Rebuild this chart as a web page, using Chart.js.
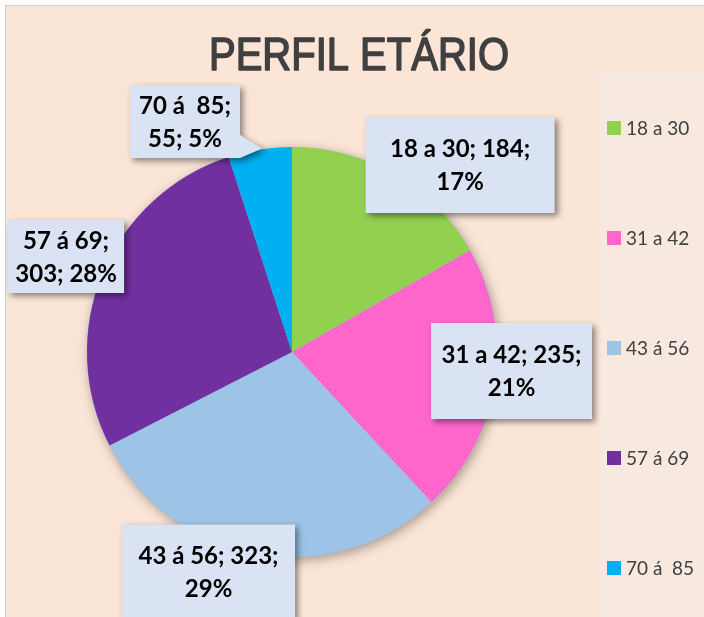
<!DOCTYPE html>
<html><head><meta charset="utf-8">
<script src="https://cdn.jsdelivr.net/npm/chart.js@4/dist/chart.umd.min.js"></script>
<style>html,body{margin:0;padding:0;background:#fff;overflow:hidden}#wrap{width:704px;height:617px;position:relative}</style>
</head><body><div id="wrap"><canvas id="c" width="704" height="617"></canvas></div>
<script>
const TITLE = 'PERFIL ETÁRIO';
const categories = ['18 a 30', '31 a 42', '43 á 56', '57 á 69', '70 á  85'];
const values = [184, 235, 323, 303, 55];
const colors = ['#92D050', '#FF66CC', '#9DC3E6', '#7030A0', '#00B0F0'];

const total = values.reduce((a, b) => a + b, 0);
const labelTexts = categories.map((c, i) => c + '; ' + values[i] + '; ' + Math.round(values[i] / total * 100) + '%');

// label box placement relative to pie centre (in radii) and box sizes
const labelBoxes = [
  {dx: 0.820, dy: -0.912, w: 189, h: 96},
  {dx: 1.071, dy: 0.093, w: 161, h: 96},
  {dx: -0.407, dy: 1.073, w: 173, h: 95},
  {dx: -1.102, dy: -0.466, w: 116, h: 73},
  {dx: -0.522, dy: -1.124, w: 110, h: 73, pointer: true}
];

function wrap(ctx, text, maxW) {
  const words = text.split(' ');
  const lines = [];
  let cur = '';
  for (const w of words) {
    const t = cur ? cur + ' ' + w : w;
    if (cur && ctx.measureText(t).width > maxW) { lines.push(cur); cur = w; } else cur = t;
  }
  if (cur) lines.push(cur);
  return lines;
}

const frame = {
  id: 'frame',
  beforeDraw(chart) {
    const ctx = chart.ctx;
    ctx.save();
    ctx.fillStyle = '#ffffff';
    ctx.fillRect(0, 0, 704, 617);
    ctx.fillStyle = '#FBE5D6';
    ctx.fillRect(5, 5, 705, 620);
    ctx.strokeStyle = '#D0D0D0';
    ctx.lineWidth = 1;
    ctx.strokeRect(5.5, 5.5, 710, 620);
    // legend panel
    ctx.fillStyle = '#F7E9E0';
    ctx.fillRect(598, 72, 110, 560);
    // title
    ctx.fillStyle = '#404040';
    ctx.strokeStyle = '#404040';
    ctx.font = '46px "Liberation Sans Narrow", "Liberation Sans", Arial, sans-serif';
    ctx.textBaseline = 'alphabetic';
    const tw = ctx.measureText(TITLE).width;
    const target = 300;
    ctx.translate(359, 70);
    ctx.scale(target / tw, 1);
    ctx.textAlign = 'center';
    ctx.lineWidth = 1.6;
    ctx.lineJoin = 'round';
    ctx.fillText(TITLE, 0, 0);
    ctx.strokeText(TITLE, 0, 0);
    ctx.restore();
  },
  beforeDatasetsDraw(chart) {
    const arc = chart.getDatasetMeta(0).data[0];
    if (!arc) return;
    const ctx = chart.ctx;
    ctx.save();
    ctx.shadowColor = 'rgba(0,0,0,0.35)';
    ctx.shadowBlur = 12;
    ctx.shadowOffsetX = 2;
    ctx.shadowOffsetY = 3;
    ctx.fillStyle = '#9DC3E6';
    ctx.beginPath();
    ctx.arc(arc.x, arc.y, arc.outerRadius, 0, Math.PI * 2);
    ctx.fill();
    ctx.restore();
  },
  afterDraw(chart) {
    const ctx = chart.ctx;
    const meta = chart.getDatasetMeta(0);
    const a0 = meta.data[0];
    const cx = a0.x, cy = a0.y, r = a0.outerRadius;
    ctx.save();
    ctx.font = 'bold 24px Lato, "Open Sans", sans-serif';
    meta.data.forEach((arc, i) => {
      const b = labelBoxes[i];
      const bx = cx + b.dx * r - b.w / 2;
      const by = cy + b.dy * r - b.h / 2;
      ctx.save();
      ctx.shadowColor = 'rgba(0,0,0,0.45)';
      ctx.shadowBlur = 6;
      ctx.shadowOffsetX = 3;
      ctx.shadowOffsetY = 3;
      ctx.fillStyle = '#DAE3F3';
      ctx.beginPath();
      ctx.rect(bx, by, b.w, b.h);
      if (b.pointer) {
        const mid = (arc.startAngle + arc.endAngle) / 2;
        const tx = cx + Math.cos(mid) * (r - 2) + 2;
        const ty = cy + Math.sin(mid) * (r - 2) - 3;
        ctx.moveTo(bx + b.w, by + b.h * 0.68);
        ctx.lineTo(tx, ty);
        ctx.lineTo(bx + b.w, by + b.h);
        ctx.closePath();
      }
      ctx.fill();
      ctx.restore();
      ctx.fillStyle = '#000000';
      ctx.textAlign = 'center';
      ctx.textBaseline = 'middle';
      const lines = wrap(ctx, labelTexts[i], b.w - 4);
      const lh = 33;
      const y0 = by + b.h / 2 - (lines.length - 1) * lh / 2;
      lines.forEach((ln, k) => ctx.fillText(ln, bx + b.w / 2, y0 + k * lh + 1));
    });
    // legend
    ctx.font = '19px Lato, "Open Sans", sans-serif';
    ctx.textAlign = 'left';
    ctx.textBaseline = 'middle';
    categories.forEach((c, i) => {
      const y = 128 + i * 110;
      ctx.fillStyle = colors[i];
      ctx.fillRect(607, y - 7, 14, 14);
      ctx.fillStyle = '#404040';
      ctx.fillText(c, 626, y + 1);
    });
    ctx.restore();
  }
};

new Chart(document.getElementById('c'), {
  type: 'pie',
  data: {
    labels: categories,
    datasets: [{data: values, backgroundColor: colors, borderWidth: 0}]
  },
  options: {
    responsive: false,
    animation: false,
    layout: {padding: {left: 87, right: 207, top: 147, bottom: 60}},
    plugins: {legend: {display: false}, title: {display: false}, tooltip: {enabled: false}}
  },
  plugins: [frame]
});
</script>
</body></html>
